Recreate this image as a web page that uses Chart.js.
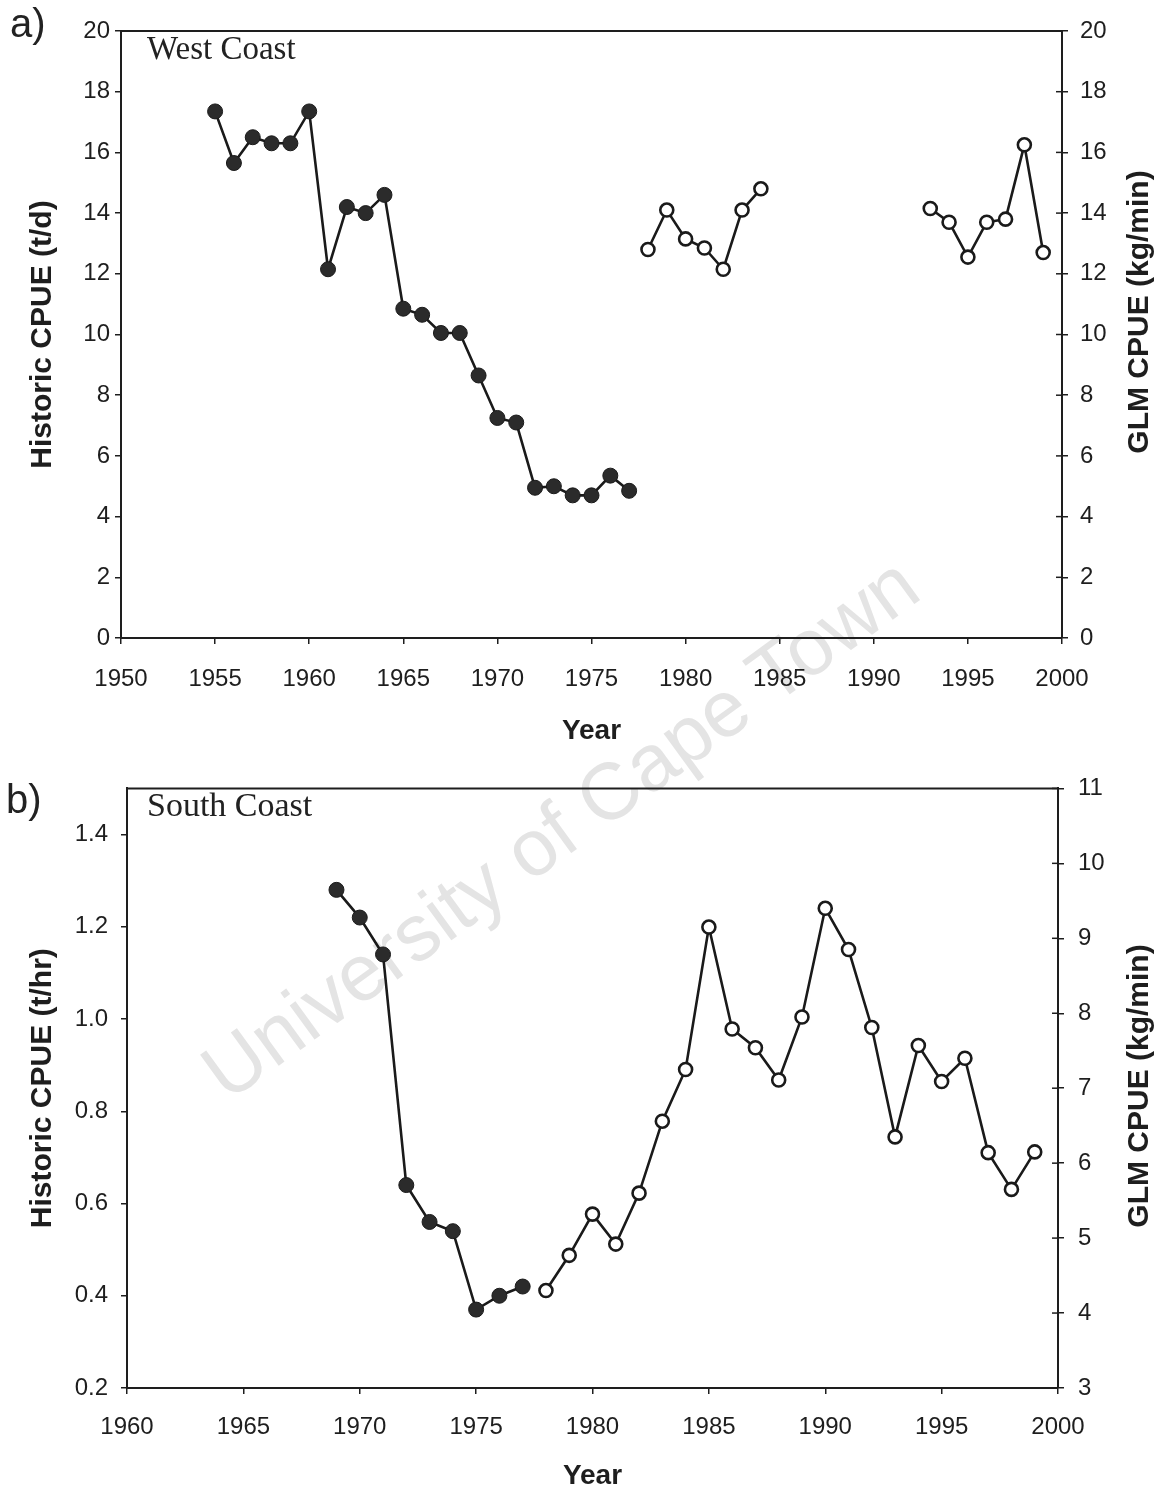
<!DOCTYPE html>
<html>
<head>
<meta charset="utf-8">
<script src="https://cdn.jsdelivr.net/npm/chart.js@4.4.1/dist/chart.umd.min.js"></script>
<style>
  html, body { margin: 0; padding: 0; background: #fff; }
  #page { position: relative; width: 1162px; height: 1493px; overflow: hidden; }
  canvas { position: absolute; left: 0; z-index: 1; }
  .panel { position: absolute; font-family: "Liberation Sans", Arial, sans-serif; font-size: 40px; line-height: 40px; color: #222; z-index: 2; }
  .region { position: absolute; font-family: "Liberation Serif", "Times New Roman", serif; color: #222; z-index: 2; }
  #watermark {
    position: absolute; left: 560px; top: 828px; z-index: 0;
    transform: translate(-50%, -50%) rotate(-36deg);
    font-family: "Liberation Sans", Arial, sans-serif; font-size: 80px; line-height: 80px;
    color: #e4e4e4; white-space: nowrap;
  }
</style>
</head>
<body>
<div id="page">
  <div id="watermark">University of Cape Town</div>
  <canvas id="westChart" width="1162" height="760" style="top:0"></canvas>
  <canvas id="southChart" width="1162" height="733" style="top:760px"></canvas>
  <div class="panel" style="left:10px; top:3px;">a)</div>
  <div class="region" style="left:147px; top:32px; font-size:33px; line-height:33px;">West Coast</div>
  <div class="panel" style="left:6px; top:779px;">b)</div>
  <div class="region" style="left:147px; top:788px; font-size:34px; line-height:34px;">South Coast</div>
</div>
<script>
// West Coast, historic CPUE (t/d)
const westHistYears = [1955, 1956, 1957, 1958, 1959, 1960, 1961, 1962, 1963, 1964, 1965, 1966,
  1967, 1968, 1969, 1970, 1971, 1972, 1973, 1974, 1975, 1976, 1977];
const westHist = [17.35, 15.65, 16.5, 16.3, 16.3, 17.35, 12.15, 14.2, 14.0, 14.6, 10.85, 10.65,
  10.05, 10.05, 8.65, 7.25, 7.1, 4.95, 5.0, 4.7, 4.7, 5.35, 4.85];

// West Coast, GLM CPUE (kg/min)
const westGlmYears = [1978, 1979, 1980, 1981, 1982, 1983, 1984, 1985, 1986, 1987, 1988, 1989,
  1990, 1991, 1992, 1993, 1994, 1995, 1996, 1997, 1998, 1999];
const westGlm = [12.8, 14.1, 13.15, 12.85, 12.15, 14.1, 14.8, null, null, null, null, null,
  null, null, null, 14.15, 13.7, 12.55, 13.7, 13.8, 16.25, 12.7];

// South Coast, historic CPUE (t/hr)
const southHistYears = [1969, 1970, 1971, 1972, 1973, 1974, 1975, 1976, 1977];
const southHist = [1.28, 1.22, 1.14, 0.64, 0.56, 0.54, 0.37, 0.40, 0.42];

// South Coast, GLM CPUE (kg/min)
const southGlmYears = [1978, 1979, 1980, 1981, 1982, 1983, 1984, 1985, 1986, 1987, 1988, 1989,
  1990, 1991, 1992, 1993, 1994, 1995, 1996, 1997, 1998, 1999];
const southGlm = [4.3, 4.77, 5.32, 4.92, 5.6, 6.56, 7.25, 9.15, 7.79, 7.54, 7.11, 7.95,
  9.4, 8.85, 7.81, 6.35, 7.57, 7.09, 7.4, 6.14, 5.65, 6.15];

// tick labels
const westYearTicks = [1950, 1955, 1960, 1965, 1970, 1975, 1980, 1985, 1990, 1995, 2000];
const westCpueTicks = [0, 2, 4, 6, 8, 10, 12, 14, 16, 18, 20];
const southYearTicks = [1960, 1965, 1970, 1975, 1980, 1985, 1990, 1995, 2000];
const southHistTicks = [0.2, 0.4, 0.6, 0.8, 1.0, 1.2, 1.4];
const southGlmTicks = [3, 4, 5, 6, 7, 8, 9, 10, 11];

const INK = "#1e1e1e";
Chart.defaults.font.family = '"Liberation Sans", Arial, sans-serif';
Chart.defaults.color = INK;

function toPoints(years, values) {
  return years.map((x, i) => ({ x, y: values[i] }));
}

function histDataset(years, values) {
  return {
    data: toPoints(years, values),
    yAxisID: "y",
    borderColor: "#1a1a1a",
    borderWidth: 2.6,
    pointRadius: 7.5,
    pointBackgroundColor: "#2b2b2b",
    pointBorderColor: "#1a1a1a",
    pointBorderWidth: 1,
    tension: 0,
  };
}

function glmDataset(years, values) {
  return {
    data: toPoints(years, values),
    yAxisID: "y2",
    borderColor: "#1a1a1a",
    borderWidth: 2.6,
    pointRadius: 6.5,
    pointBackgroundColor: "#ffffff",
    pointBorderColor: "#1a1a1a",
    pointBorderWidth: 2.6,
    spanGaps: false,
    tension: 0,
  };
}

function axisTicks(list) {
  return scale => { scale.ticks = list.map(value => ({ value })); };
}

function xScale(min, max, list, height, labelPad, titlePad) {
  return {
    type: "linear",
    position: "bottom",
    min, max,
    afterBuildTicks: axisTicks(list),
    afterFit: scale => { scale.height = height; },
    border: { display: true, color: INK, width: 2 },
    grid: { drawOnChartArea: false, drawTicks: true, tickLength: 6, tickColor: INK, lineWidth: 1.5 },
    ticks: { font: { size: 24 }, color: INK, padding: labelPad, maxRotation: 0, callback: v => String(v) },
    title: { display: true, text: "Year", font: { size: 28, weight: "bold" }, color: INK, padding: { top: 0, bottom: titlePad } },
  };
}

function yScale(position, min, max, list, width, labelPad, fmt, titleText) {
  return {
    type: "linear",
    position,
    min, max,
    afterBuildTicks: axisTicks(list),
    afterFit: scale => { scale.width = width; },
    border: { display: true, color: INK, width: 2 },
    grid: { drawOnChartArea: false, drawTicks: true, tickLength: 6, tickColor: INK, lineWidth: 1.5 },
    ticks: { font: { size: 24 }, color: INK, padding: labelPad, callback: fmt },
    title: titleText
      ? { display: true, text: titleText, font: { size: 30, weight: "bold" }, color: INK, padding: { top: 25, bottom: 0 } }
      : { display: false },
  };
}

// top border, inward ticks on the right axis, right-hand title reading upward
const framePlugin = {
  id: "frame",
  afterDraw(chart, args, opts) {
    const { ctx, chartArea } = chart;
    const s = chart.scales.y2;
    ctx.save();
    ctx.strokeStyle = INK;
    ctx.lineWidth = 2;
    ctx.beginPath();
    ctx.moveTo(chartArea.left - 1, chartArea.top);
    ctx.lineTo(chartArea.right + 1, chartArea.top);
    ctx.stroke();

    ctx.lineWidth = 1.5;
    s.ticks.forEach(t => {
      const y = s.getPixelForValue(t.value);
      ctx.beginPath();
      ctx.moveTo(s.left - 6, y);
      ctx.lineTo(s.left, y);
      ctx.stroke();
    });

    ctx.translate(opts.titleX, opts.titleY);
    ctx.rotate(-Math.PI / 2);
    ctx.fillStyle = INK;
    ctx.font = 'bold 30px "Liberation Sans", Arial, sans-serif';
    ctx.textAlign = "center";
    ctx.textBaseline = "middle";
    ctx.fillText(opts.title, 0, 0);
    ctx.restore();
  },
};

new Chart(document.getElementById("westChart"), {
  type: "line",
  data: {
    datasets: [histDataset(westHistYears, westHist), glmDataset(westGlmYears, westGlm)],
  },
  options: {
    responsive: false,
    animation: false,
    layout: { padding: { top: 31, left: 0, right: 0, bottom: 0 } },
    plugins: {
      legend: { display: false },
      tooltip: { enabled: false },
      frame: { title: "GLM CPUE (kg/min)", titleX: 1140, titleY: 312 },
    },
    scales: {
      x: xScale(1950, 2000, westYearTicks, 122, 21, 12),
      y: yScale("left", 0, 20, westCpueTicks, 121, 5, v => String(v), "Historic CPUE (t/d)"),
      y2: yScale("right", 0, 20, westCpueTicks, 100, 12, v => String(v), null),
    },
  },
  plugins: [framePlugin],
});

new Chart(document.getElementById("southChart"), {
  type: "line",
  data: {
    datasets: [histDataset(southHistYears, southHist), glmDataset(southGlmYears, southGlm)],
  },
  options: {
    responsive: false,
    animation: false,
    layout: { padding: { top: 24, left: 0, right: 0, bottom: 0 } },
    plugins: {
      legend: { display: false },
      tooltip: { enabled: false },
      frame: { title: "GLM CPUE (kg/min)", titleX: 1140, titleY: 326 },
    },
    scales: {
      x: xScale(1960, 2000, southYearTicks, 105, 19, 0),
      y: yScale("left", 0.2, 1.5, southHistTicks, 127, 13, v => v.toFixed(1), "Historic CPUE (t/hr)"),
      y2: yScale("right", 3, 11, southGlmTicks, 104, 14, v => String(v), null),
    },
  },
  plugins: [framePlugin],
});
</script>
</body>
</html>
